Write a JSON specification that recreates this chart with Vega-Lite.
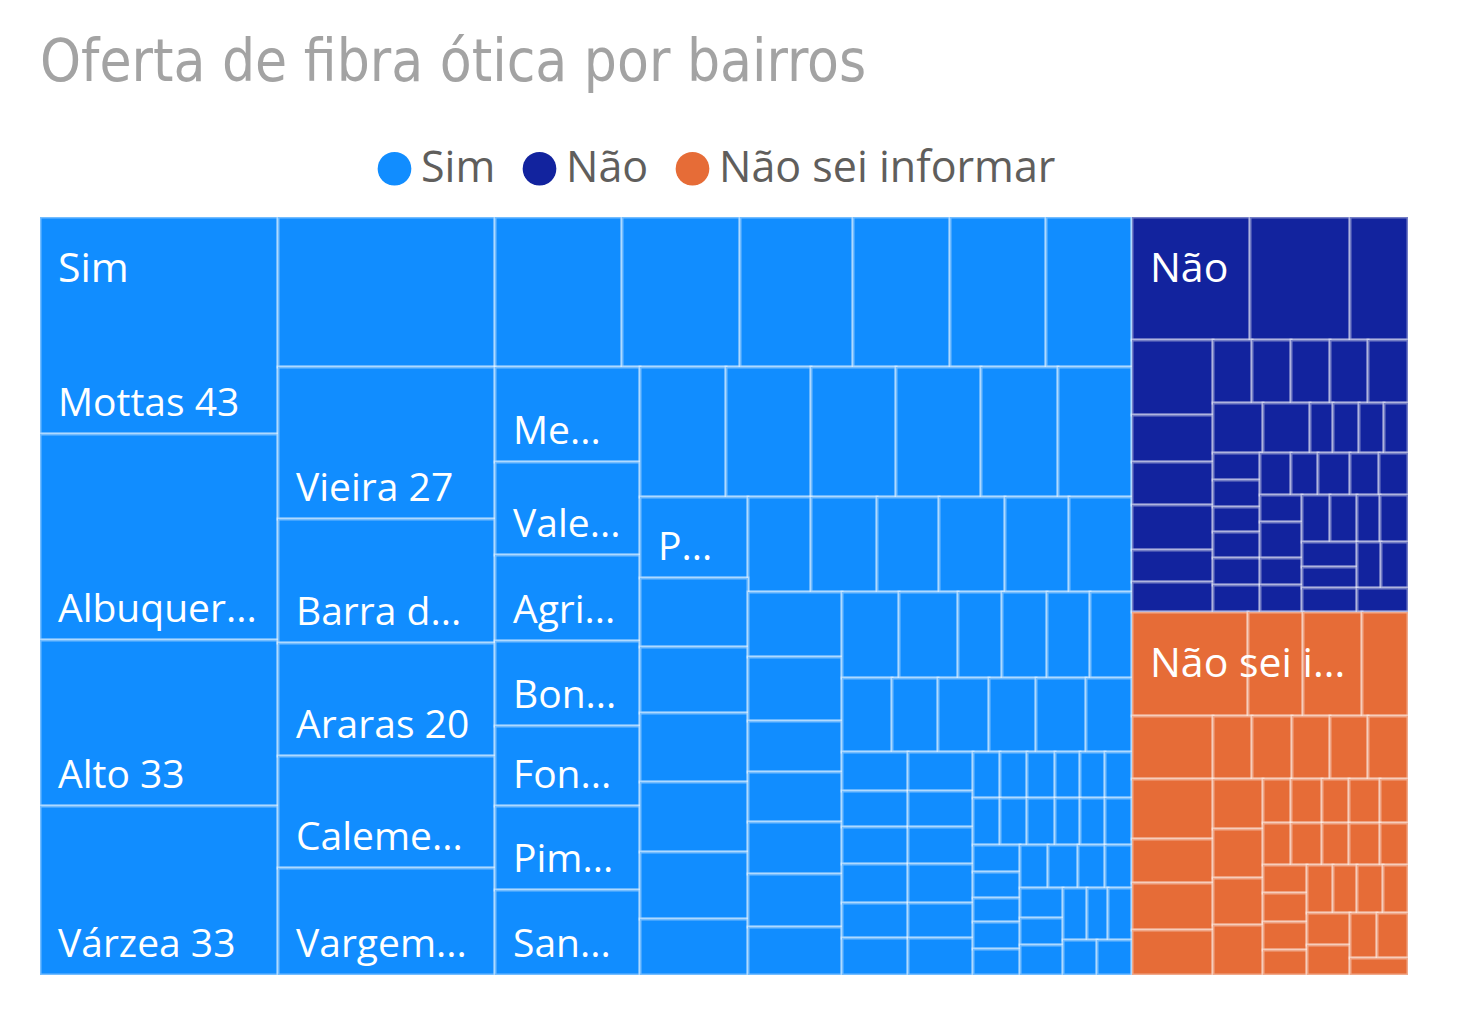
{
  "$schema": "https://vega.github.io/schema/vega-lite/v6.json",
  "width": 1368,
  "height": 758,
  "autosize": {"type": "none"},
  "padding": {"left": 40, "top": 217, "right": 51, "bottom": 35},
  "background": "white",
  "config": {"view": {"stroke": null}},
  "title": {
    "text": "Oferta de fibra ótica por bairros",
    "anchor": "start",
    "frame": "group",
    "font": "DejaVu Sans Condensed",
    "fontSize": 58,
    "fontWeight": "normal",
    "color": "#A3A3A3",
    "baseline": "alphabetic",
    "offset": 8
  },
  "datasets": {
    "celulas": [
      {"resposta":"Sim","rotulo":"Mottas 43","n":43,"x0":0,"x1":238,"y0":0,"y1":217},
      {"resposta":"Sim","rotulo":"Albuquer...","n":41,"x0":0,"x1":238,"y0":217,"y1":423},
      {"resposta":"Sim","rotulo":"Alto 33","n":33,"x0":0,"x1":238,"y0":423,"y1":589},
      {"resposta":"Sim","rotulo":"Várzea 33","n":33,"x0":0,"x1":238,"y0":589,"y1":758},
      {"resposta":"Sim","n":27,"x0":238,"x1":455,"y0":0,"y1":150},
      {"resposta":"Sim","n":16,"x0":455,"x1":582,"y0":0,"y1":150},
      {"resposta":"Sim","n":15,"x0":582,"x1":700,"y0":0,"y1":150},
      {"resposta":"Sim","n":14,"x0":700,"x1":813,"y0":0,"y1":150},
      {"resposta":"Sim","n":12,"x0":813,"x1":910,"y0":0,"y1":150},
      {"resposta":"Sim","n":12,"x0":910,"x1":1006,"y0":0,"y1":150},
      {"resposta":"Sim","n":11,"x0":1006,"x1":1092,"y0":0,"y1":150},
      {"resposta":"Sim","rotulo":"Vieira 27","n":27,"x0":238,"x1":455,"y0":150,"y1":302},
      {"resposta":"Sim","rotulo":"Barra d...","n":22,"x0":238,"x1":455,"y0":302,"y1":426},
      {"resposta":"Sim","rotulo":"Araras 20","n":20,"x0":238,"x1":455,"y0":426,"y1":539},
      {"resposta":"Sim","rotulo":"Caleme...","n":20,"x0":238,"x1":455,"y0":539,"y1":651},
      {"resposta":"Sim","rotulo":"Vargem...","n":19,"x0":238,"x1":455,"y0":651,"y1":758},
      {"resposta":"Sim","rotulo":"Me...","n":11,"x0":455,"x1":600,"y0":150,"y1":245},
      {"resposta":"Sim","rotulo":"Vale...","n":11,"x0":455,"x1":600,"y0":245,"y1":338},
      {"resposta":"Sim","rotulo":"Agri...","n":10,"x0":455,"x1":600,"y0":338,"y1":424},
      {"resposta":"Sim","rotulo":"Bon...","n":10,"x0":455,"x1":600,"y0":424,"y1":509},
      {"resposta":"Sim","rotulo":"Fon...","n":10,"x0":455,"x1":600,"y0":509,"y1":589},
      {"resposta":"Sim","rotulo":"Pim...","n":10,"x0":455,"x1":600,"y0":589,"y1":673},
      {"resposta":"Sim","rotulo":"San...","n":10,"x0":455,"x1":600,"y0":673,"y1":758},
      {"resposta":"Sim","n":9,"x0":600,"x1":686,"y0":150,"y1":280},
      {"resposta":"Sim","n":9,"x0":686,"x1":771,"y0":150,"y1":280},
      {"resposta":"Sim","n":9,"x0":771,"x1":856,"y0":150,"y1":280},
      {"resposta":"Sim","n":9,"x0":856,"x1":941,"y0":150,"y1":280},
      {"resposta":"Sim","n":8,"x0":941,"x1":1018,"y0":150,"y1":280},
      {"resposta":"Sim","n":8,"x0":1018,"x1":1092,"y0":150,"y1":280},
      {"resposta":"Sim","rotulo":"P...","n":7,"x0":600,"x1":708,"y0":280,"y1":361},
      {"resposta":"Sim","n":5,"x0":708,"x1":771,"y0":280,"y1":375},
      {"resposta":"Sim","n":5,"x0":771,"x1":837,"y0":280,"y1":375},
      {"resposta":"Sim","n":5,"x0":837,"x1":899,"y0":280,"y1":375},
      {"resposta":"Sim","n":5,"x0":899,"x1":965,"y0":280,"y1":375},
      {"resposta":"Sim","n":5,"x0":965,"x1":1029,"y0":280,"y1":375},
      {"resposta":"Sim","n":5,"x0":1029,"x1":1092,"y0":280,"y1":375},
      {"resposta":"Sim","n":6,"x0":600,"x1":708,"y0":361,"y1":430},
      {"resposta":"Sim","n":6,"x0":600,"x1":708,"y0":430,"y1":496},
      {"resposta":"Sim","n":6,"x0":600,"x1":708,"y0":496,"y1":565},
      {"resposta":"Sim","n":6,"x0":600,"x1":708,"y0":565,"y1":635},
      {"resposta":"Sim","n":6,"x0":600,"x1":708,"y0":635,"y1":702},
      {"resposta":"Sim","n":5,"x0":600,"x1":708,"y0":702,"y1":758},
      {"resposta":"Sim","n":5,"x0":708,"x1":802,"y0":375,"y1":440},
      {"resposta":"Sim","n":5,"x0":708,"x1":802,"y0":440,"y1":504},
      {"resposta":"Sim","n":4,"x0":708,"x1":802,"y0":504,"y1":555},
      {"resposta":"Sim","n":4,"x0":708,"x1":802,"y0":555,"y1":605},
      {"resposta":"Sim","n":4,"x0":708,"x1":802,"y0":605,"y1":657},
      {"resposta":"Sim","n":4,"x0":708,"x1":802,"y0":657,"y1":710},
      {"resposta":"Sim","n":4,"x0":708,"x1":802,"y0":710,"y1":758},
      {"resposta":"Sim","n":4,"x0":802,"x1":859,"y0":375,"y1":461},
      {"resposta":"Sim","n":4,"x0":859,"x1":918,"y0":375,"y1":461},
      {"resposta":"Sim","n":3,"x0":918,"x1":962,"y0":375,"y1":461},
      {"resposta":"Sim","n":3,"x0":962,"x1":1007,"y0":375,"y1":461},
      {"resposta":"Sim","n":3,"x0":1007,"x1":1050,"y0":375,"y1":461},
      {"resposta":"Sim","n":3,"x0":1050,"x1":1092,"y0":375,"y1":461},
      {"resposta":"Sim","n":3,"x0":802,"x1":852,"y0":461,"y1":535},
      {"resposta":"Sim","n":3,"x0":852,"x1":898,"y0":461,"y1":535},
      {"resposta":"Sim","n":3,"x0":898,"x1":949,"y0":461,"y1":535},
      {"resposta":"Sim","n":3,"x0":949,"x1":996,"y0":461,"y1":535},
      {"resposta":"Sim","n":3,"x0":996,"x1":1046,"y0":461,"y1":535},
      {"resposta":"Sim","n":3,"x0":1046,"x1":1092,"y0":461,"y1":535},
      {"resposta":"Sim","n":2,"x0":802,"x1":868,"y0":535,"y1":574},
      {"resposta":"Sim","n":2,"x0":802,"x1":868,"y0":574,"y1":610},
      {"resposta":"Sim","n":2,"x0":802,"x1":868,"y0":610,"y1":647},
      {"resposta":"Sim","n":2,"x0":802,"x1":868,"y0":647,"y1":686},
      {"resposta":"Sim","n":2,"x0":802,"x1":868,"y0":686,"y1":721},
      {"resposta":"Sim","n":2,"x0":802,"x1":868,"y0":721,"y1":758},
      {"resposta":"Sim","n":2,"x0":868,"x1":933,"y0":535,"y1":574},
      {"resposta":"Sim","n":2,"x0":868,"x1":933,"y0":574,"y1":610},
      {"resposta":"Sim","n":2,"x0":868,"x1":933,"y0":610,"y1":647},
      {"resposta":"Sim","n":2,"x0":868,"x1":933,"y0":647,"y1":686},
      {"resposta":"Sim","n":2,"x0":868,"x1":933,"y0":686,"y1":721},
      {"resposta":"Sim","n":2,"x0":868,"x1":933,"y0":721,"y1":758},
      {"resposta":"Sim","n":1,"x0":933,"x1":960,"y0":535,"y1":581},
      {"resposta":"Sim","n":1,"x0":960,"x1":987,"y0":535,"y1":581},
      {"resposta":"Sim","n":1,"x0":987,"x1":1015,"y0":535,"y1":581},
      {"resposta":"Sim","n":1,"x0":1015,"x1":1040,"y0":535,"y1":581},
      {"resposta":"Sim","n":1,"x0":1040,"x1":1065,"y0":535,"y1":581},
      {"resposta":"Sim","n":1,"x0":1065,"x1":1092,"y0":535,"y1":581},
      {"resposta":"Sim","n":1,"x0":933,"x1":960,"y0":581,"y1":628},
      {"resposta":"Sim","n":1,"x0":960,"x1":987,"y0":581,"y1":628},
      {"resposta":"Sim","n":1,"x0":987,"x1":1015,"y0":581,"y1":628},
      {"resposta":"Sim","n":1,"x0":1015,"x1":1040,"y0":581,"y1":628},
      {"resposta":"Sim","n":1,"x0":1040,"x1":1065,"y0":581,"y1":628},
      {"resposta":"Sim","n":1,"x0":1065,"x1":1092,"y0":581,"y1":628},
      {"resposta":"Sim","n":1,"x0":933,"x1":980,"y0":628,"y1":655},
      {"resposta":"Sim","n":1,"x0":933,"x1":980,"y0":655,"y1":681},
      {"resposta":"Sim","n":1,"x0":933,"x1":980,"y0":681,"y1":705},
      {"resposta":"Sim","n":1,"x0":933,"x1":980,"y0":705,"y1":732},
      {"resposta":"Sim","n":1,"x0":933,"x1":980,"y0":732,"y1":758},
      {"resposta":"Sim","n":1,"x0":980,"x1":1008,"y0":628,"y1":671},
      {"resposta":"Sim","n":1,"x0":1008,"x1":1038,"y0":628,"y1":671},
      {"resposta":"Sim","n":1,"x0":1038,"x1":1065,"y0":628,"y1":671},
      {"resposta":"Sim","n":1,"x0":1065,"x1":1092,"y0":628,"y1":671},
      {"resposta":"Sim","n":1,"x0":980,"x1":1023,"y0":671,"y1":701},
      {"resposta":"Sim","n":1,"x0":980,"x1":1023,"y0":701,"y1":728},
      {"resposta":"Sim","n":1,"x0":980,"x1":1023,"y0":728,"y1":758},
      {"resposta":"Sim","n":1,"x0":1023,"x1":1047,"y0":671,"y1":723},
      {"resposta":"Sim","n":1,"x0":1047,"x1":1068,"y0":671,"y1":723},
      {"resposta":"Sim","n":1,"x0":1068,"x1":1092,"y0":671,"y1":723},
      {"resposta":"Sim","n":1,"x0":1023,"x1":1057,"y0":723,"y1":758},
      {"resposta":"Sim","n":1,"x0":1057,"x1":1092,"y0":723,"y1":758},

      {"resposta":"Não","n":12,"x0":1092,"x1":1210,"y0":0,"y1":123},
      {"resposta":"Não","n":10,"x0":1210,"x1":1310,"y0":0,"y1":123},
      {"resposta":"Não","n":6,"x0":1310,"x1":1368,"y0":0,"y1":123},
      {"resposta":"Não","n":5,"x0":1092,"x1":1173,"y0":123,"y1":198},
      {"resposta":"Não","n":3,"x0":1092,"x1":1173,"y0":198,"y1":245},
      {"resposta":"Não","n":3,"x0":1092,"x1":1173,"y0":245,"y1":288},
      {"resposta":"Não","n":3,"x0":1092,"x1":1173,"y0":288,"y1":333},
      {"resposta":"Não","n":2,"x0":1092,"x1":1173,"y0":333,"y1":365},
      {"resposta":"Não","n":2,"x0":1092,"x1":1173,"y0":365,"y1":395},
      {"resposta":"Não","n":2,"x0":1173,"x1":1212,"y0":123,"y1":186},
      {"resposta":"Não","n":2,"x0":1212,"x1":1251,"y0":123,"y1":186},
      {"resposta":"Não","n":2,"x0":1251,"x1":1290,"y0":123,"y1":186},
      {"resposta":"Não","n":2,"x0":1290,"x1":1328,"y0":123,"y1":186},
      {"resposta":"Não","n":2,"x0":1328,"x1":1368,"y0":123,"y1":186},
      {"resposta":"Não","n":2,"x0":1173,"x1":1223,"y0":186,"y1":236},
      {"resposta":"Não","n":2,"x0":1223,"x1":1270,"y0":186,"y1":236},
      {"resposta":"Não","n":1,"x0":1270,"x1":1293,"y0":186,"y1":236},
      {"resposta":"Não","n":1,"x0":1293,"x1":1319,"y0":186,"y1":236},
      {"resposta":"Não","n":1,"x0":1319,"x1":1344,"y0":186,"y1":236},
      {"resposta":"Não","n":1,"x0":1344,"x1":1368,"y0":186,"y1":236},
      {"resposta":"Não","n":1,"x0":1173,"x1":1220,"y0":236,"y1":263},
      {"resposta":"Não","n":1,"x0":1173,"x1":1220,"y0":263,"y1":290},
      {"resposta":"Não","n":1,"x0":1173,"x1":1220,"y0":290,"y1":315},
      {"resposta":"Não","n":1,"x0":1173,"x1":1220,"y0":315,"y1":341},
      {"resposta":"Não","n":1,"x0":1173,"x1":1220,"y0":341,"y1":368},
      {"resposta":"Não","n":1,"x0":1173,"x1":1220,"y0":368,"y1":395},
      {"resposta":"Não","n":1,"x0":1220,"x1":1251,"y0":236,"y1":278},
      {"resposta":"Não","n":1,"x0":1251,"x1":1278,"y0":236,"y1":278},
      {"resposta":"Não","n":1,"x0":1278,"x1":1310,"y0":236,"y1":278},
      {"resposta":"Não","n":1,"x0":1310,"x1":1339,"y0":236,"y1":278},
      {"resposta":"Não","n":1,"x0":1339,"x1":1368,"y0":236,"y1":278},
      {"resposta":"Não","n":1,"x0":1220,"x1":1262,"y0":278,"y1":305},
      {"resposta":"Não","n":1,"x0":1220,"x1":1262,"y0":305,"y1":341},
      {"resposta":"Não","n":1,"x0":1220,"x1":1262,"y0":341,"y1":368},
      {"resposta":"Não","n":1,"x0":1220,"x1":1262,"y0":368,"y1":395},
      {"resposta":"Não","n":1,"x0":1262,"x1":1290,"y0":278,"y1":325},
      {"resposta":"Não","n":1,"x0":1290,"x1":1317,"y0":278,"y1":325},
      {"resposta":"Não","n":1,"x0":1317,"x1":1340,"y0":278,"y1":325},
      {"resposta":"Não","n":1,"x0":1340,"x1":1368,"y0":278,"y1":325},
      {"resposta":"Não","n":1,"x0":1262,"x1":1317,"y0":325,"y1":350},
      {"resposta":"Não","n":1,"x0":1262,"x1":1317,"y0":350,"y1":371},
      {"resposta":"Não","n":1,"x0":1317,"x1":1341,"y0":325,"y1":371},
      {"resposta":"Não","n":1,"x0":1341,"x1":1368,"y0":325,"y1":371},
      {"resposta":"Não","n":1,"x0":1262,"x1":1317,"y0":371,"y1":395},
      {"resposta":"Não","n":1,"x0":1317,"x1":1368,"y0":371,"y1":395},

      {"resposta":"Não sei informar","n":10,"x0":1092,"x1":1208,"y0":395,"y1":499},
      {"resposta":"Não sei informar","n":5,"x0":1208,"x1":1263,"y0":395,"y1":499},
      {"resposta":"Não sei informar","n":5,"x0":1263,"x1":1322,"y0":395,"y1":499},
      {"resposta":"Não sei informar","n":4,"x0":1322,"x1":1368,"y0":395,"y1":499},
      {"resposta":"Não sei informar","n":4,"x0":1092,"x1":1173,"y0":499,"y1":562},
      {"resposta":"Não sei informar","n":2,"x0":1173,"x1":1212,"y0":499,"y1":562},
      {"resposta":"Não sei informar","n":2,"x0":1212,"x1":1252,"y0":499,"y1":562},
      {"resposta":"Não sei informar","n":2,"x0":1252,"x1":1290,"y0":499,"y1":562},
      {"resposta":"Não sei informar","n":2,"x0":1290,"x1":1328,"y0":499,"y1":562},
      {"resposta":"Não sei informar","n":2,"x0":1328,"x1":1368,"y0":499,"y1":562},
      {"resposta":"Não sei informar","n":4,"x0":1092,"x1":1173,"y0":562,"y1":622},
      {"resposta":"Não sei informar","n":3,"x0":1092,"x1":1173,"y0":622,"y1":666},
      {"resposta":"Não sei informar","n":3,"x0":1092,"x1":1173,"y0":666,"y1":713},
      {"resposta":"Não sei informar","n":3,"x0":1092,"x1":1173,"y0":713,"y1":758},
      {"resposta":"Não sei informar","n":2,"x0":1173,"x1":1223,"y0":562,"y1":612},
      {"resposta":"Não sei informar","n":2,"x0":1173,"x1":1223,"y0":612,"y1":661},
      {"resposta":"Não sei informar","n":2,"x0":1173,"x1":1223,"y0":661,"y1":708},
      {"resposta":"Não sei informar","n":2,"x0":1173,"x1":1223,"y0":708,"y1":758},
      {"resposta":"Não sei informar","n":1,"x0":1223,"x1":1251,"y0":562,"y1":606},
      {"resposta":"Não sei informar","n":1,"x0":1251,"x1":1282,"y0":562,"y1":606},
      {"resposta":"Não sei informar","n":1,"x0":1282,"x1":1309,"y0":562,"y1":606},
      {"resposta":"Não sei informar","n":1,"x0":1309,"x1":1340,"y0":562,"y1":606},
      {"resposta":"Não sei informar","n":1,"x0":1340,"x1":1368,"y0":562,"y1":606},
      {"resposta":"Não sei informar","n":1,"x0":1223,"x1":1251,"y0":606,"y1":648},
      {"resposta":"Não sei informar","n":1,"x0":1251,"x1":1282,"y0":606,"y1":648},
      {"resposta":"Não sei informar","n":1,"x0":1282,"x1":1309,"y0":606,"y1":648},
      {"resposta":"Não sei informar","n":1,"x0":1309,"x1":1340,"y0":606,"y1":648},
      {"resposta":"Não sei informar","n":1,"x0":1340,"x1":1368,"y0":606,"y1":648},
      {"resposta":"Não sei informar","n":1,"x0":1223,"x1":1267,"y0":648,"y1":676},
      {"resposta":"Não sei informar","n":1,"x0":1223,"x1":1267,"y0":676,"y1":705},
      {"resposta":"Não sei informar","n":1,"x0":1223,"x1":1267,"y0":705,"y1":733},
      {"resposta":"Não sei informar","n":1,"x0":1223,"x1":1267,"y0":733,"y1":758},
      {"resposta":"Não sei informar","n":1,"x0":1267,"x1":1293,"y0":648,"y1":696},
      {"resposta":"Não sei informar","n":1,"x0":1293,"x1":1317,"y0":648,"y1":696},
      {"resposta":"Não sei informar","n":1,"x0":1317,"x1":1343,"y0":648,"y1":696},
      {"resposta":"Não sei informar","n":1,"x0":1343,"x1":1368,"y0":648,"y1":696},
      {"resposta":"Não sei informar","n":1,"x0":1267,"x1":1310,"y0":696,"y1":728},
      {"resposta":"Não sei informar","n":1,"x0":1267,"x1":1310,"y0":728,"y1":758},
      {"resposta":"Não sei informar","n":1,"x0":1310,"x1":1337,"y0":696,"y1":741},
      {"resposta":"Não sei informar","n":1,"x0":1337,"x1":1368,"y0":696,"y1":741},
      {"resposta":"Não sei informar","n":1,"x0":1310,"x1":1368,"y0":741,"y1":758}
    ],
    "grupos": [
      {"resposta":"Sim","rotulo":"Sim","x0":0,"y0":0},
      {"resposta":"Não","rotulo":"Não","x0":1092,"y0":0},
      {"resposta":"Não sei informar","rotulo":"Não sei i...","x0":1092,"y0":395}
    ]
  },
  "layer": [
    {
      "data": {"name": "celulas"},
      "mark": {"type": "rect", "stroke": "#ffffff", "strokeWidth": 3, "strokeOpacity": 0.42},
      "encoding": {
        "x": {"field": "x0", "type": "quantitative", "scale": {"domain": [0, 1368], "nice": false, "zero": false}, "axis": null},
        "x2": {"field": "x1"},
        "y": {"field": "y0", "type": "quantitative", "scale": {"domain": [0, 758], "nice": false, "zero": false, "reverse": true}, "axis": null},
        "y2": {"field": "y1"},
        "color": {
          "field": "resposta",
          "type": "nominal",
          "scale": {"domain": ["Sim", "Não", "Não sei informar"], "range": ["#118DFF", "#12239E", "#E66C37"]},
          "legend": {
            "title": null,
            "orient": "none",
            "direction": "horizontal",
            "legendX": 333,
            "legendY": -70,
            "padding": 0,
            "symbolType": "circle",
            "symbolSize": 1134,
            "symbolStrokeWidth": 0,
            "symbolOpacity": 1,
            "labelFont": "Open Sans",
            "labelFontSize": 43,
            "labelColor": "#605E5C",
            "labelOffset": 5,
            "labelLimit": 600,
            "columnPadding": 22
          }
        }
      }
    },
    {
      "data": {"name": "celulas"},
      "transform": [{"filter": "isValid(datum.rotulo)"}],
      "mark": {"type": "text", "align": "left", "baseline": "alphabetic", "dx": 18, "dy": -18, "font": "Open Sans", "fontSize": 39, "color": "#ffffff"},
      "encoding": {
        "x": {"field": "x0", "type": "quantitative", "scale": {"domain": [0, 1368], "nice": false, "zero": false}, "axis": null},
        "y": {"field": "y1", "type": "quantitative", "scale": {"domain": [0, 758], "nice": false, "zero": false, "reverse": true}, "axis": null},
        "text": {"field": "rotulo"}
      }
    },
    {
      "data": {"name": "grupos"},
      "mark": {"type": "text", "align": "left", "baseline": "alphabetic", "dx": 18, "dy": 65, "font": "Open Sans", "fontSize": 41, "color": "#ffffff"},
      "encoding": {
        "x": {"field": "x0", "type": "quantitative", "scale": {"domain": [0, 1368], "nice": false, "zero": false}, "axis": null},
        "y": {"field": "y0", "type": "quantitative", "scale": {"domain": [0, 758], "nice": false, "zero": false, "reverse": true}, "axis": null},
        "text": {"field": "rotulo"}
      }
    }
  ]
}
